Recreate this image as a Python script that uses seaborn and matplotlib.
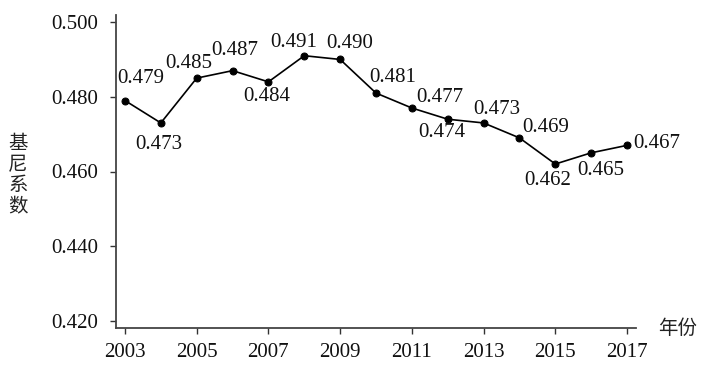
import matplotlib
matplotlib.use("Agg")
import matplotlib.pyplot as plt
import seaborn as sns
import pandas as pd

years = [2003, 2004, 2005, 2006, 2007, 2008, 2009, 2010, 2011, 2012, 2013, 2014, 2015, 2016, 2017]
gini = [0.479, 0.473, 0.485, 0.487, 0.484, 0.491, 0.490, 0.481, 0.477, 0.474, 0.473, 0.469, 0.462, 0.465, 0.467]
x_ticks = [2003, 2005, 2007, 2009, 2011, 2013, 2015, 2017]
y_ticks = [0.420, 0.440, 0.460, 0.480, 0.500]

# label offsets in pixels (dx, dy), dy positive = up
label_offsets = [(16, 22), (-2, -22), (-8, 15), (2, 20), (-2, -15), (-11, 13),
                 (10, 16), (17, 16), (28, 11), (-6, -13), (13, 13), (26, 10),
                 (-8, -16), (10, -18), (30, 2)]

sns.set_style("ticks")
plt.rcParams['font.family'] = ['Liberation Serif', 'Noto Sans CJK SC', 'DejaVu Sans']

df = pd.DataFrame({"year": years, "gini": gini})

fig = plt.figure(figsize=(7.11, 3.66), dpi=100)
ax = fig.add_axes([116/711, 1 - 328/366, (636 - 116)/711, (328 - 15)/366])

sns.lineplot(data=df, x="year", y="gini", ax=ax, color="black", linewidth=1.2,
             marker="o", markersize=5, markeredgecolor="black", markerfacecolor="black")

pt = 72 / 100
for (x, y, (dx, dy)) in zip(years, gini, label_offsets):
    ax.annotate(f"{y:.3f}", (x, y), xytext=(dx * pt, dy * pt), textcoords="offset points",
                ha="center", va="center", fontsize=15, color="#111111")

ax.set_xlim(2002.75, 2017.25)
ax.set_ylim(0.4181, 0.5019)
ax.set_xticks(x_ticks)
ax.set_xticklabels([str(t) for t in x_ticks])
ax.set_yticks(y_ticks)
ax.set_yticklabels([f"{t:.3f}" for t in y_ticks])
ax.tick_params(axis="both", direction="out", length=4, width=1, labelsize=15,
               colors="#333333", labelcolor="#111111")
ax.tick_params(axis="x", pad=7)
ax.tick_params(axis="y", pad=9)
for s in ["top", "right"]:
    ax.spines[s].set_visible(False)
for s in ["left", "bottom"]:
    ax.spines[s].set_color("#444444")
    ax.spines[s].set_linewidth(1.3)
ax.set_xlabel("")
ax.set_ylabel("")

fig.text(18/711, 1 - 175/366, "基\n尼\n系\n数", family=['Noto Sans CJK SC', 'DejaVu Sans'],
         fontsize=14, ha="center", va="center", linespacing=1.0, color="#222222")
fig.text(678/711, 1 - 328/366, "年份", family=['Noto Sans CJK SC', 'DejaVu Sans'],
         fontsize=14, ha="center", va="center", color="#222222")

fig.savefig("out.png", dpi=100)
